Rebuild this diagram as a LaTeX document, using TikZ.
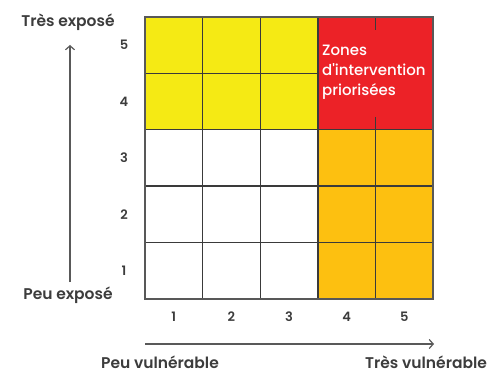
\documentclass[tikz,border=0pt]{standalone}
\usepackage{fontspec}
\setmainfont{Poppins}
\newfontfamily\semib{Poppins SemiBold}
\newfontfamily\medium{Poppins Medium}
\usetikzlibrary{arrows.meta}
\definecolor{ink}{HTML}{3C3C3C}
\definecolor{gridline}{HTML}{3A3A3A}
\definecolor{cellyellow}{HTML}{F5EA14}
\definecolor{cellred}{HTML}{EC2227}
\definecolor{cellorange}{HTML}{FDC010}
\tikzset{
  axislabel/.style={text=ink, font=\semib\fontsize{15.5}{18}\selectfont, inner sep=0pt},
  ticklabel/.style={text=ink, font=\semib\fontsize{13}{15}\selectfont, inner sep=0pt},
  zonelabel/.style={text=white, font=\medium\fontsize{15}{20}\selectfont, align=left, inner sep=0pt, anchor=north west},
  gridstroke/.style={draw=gridline, line width=1.4pt},
  axisarrow/.style={draw=ink!85, line width=1.2pt, -{Straight Barb[length=4pt,width=9pt]}},
}
\begin{document}
\begin{tikzpicture}[x=1pt,y=-1pt]
  \useasboundingbox (0,0) rectangle (492,371);
  \clip (0,0) rectangle (492,371);
  % coloured zones
  \fill[cellyellow] (145,17) rectangle (317.8,129.8);
  \fill[cellred] (317.8,17) rectangle (433,129.8);
  \fill[cellorange] (317.8,129.8) rectangle (433,299);
  % inner grid lines
  \foreach \x in {202.6,260.2,317.8} \draw[gridstroke] (\x,17) -- (\x,299);
  \draw[gridstroke] (375.4,129.8) -- (375.4,299);
  \draw[gridstroke] (375.4,17) -- (375.4,30);
  \draw[gridstroke] (375.4,117) -- (375.4,129.8);
  \draw[gridstroke] (145,73.4) -- (317.8,73.4);
  \foreach \y in {129.8,186.2,242.6} \draw[gridstroke] (145,\y) -- (433,\y);
  \draw[draw=gridline!85, line width=1.4pt] (145,17) rectangle (433,299);
  % zone label
  \node[zonelabel] (zone) at (322,45) {Zones\\d\char"27 intervention\\priorisées};
  % row numbers
  \foreach \i/\y in {5/45.2,4/101.6,3/158,2/214.4,1/270.8}
    \node[ticklabel] (row\i) at (124,\y) {\i};
  % column numbers
  \foreach \i/\x in {1/173.8,2/231.4,3/289,4/346.6,5/404.2}
    \node[ticklabel] (col\i) at (\x,317) {\i};
  % exposure axis
  \node[axislabel] (hiexp) at (68,22) {Très exposé};
  \node[axislabel] (loexp) at (68,295) {Peu exposé};
  \coordinate (expbot) at (70,282);
  \coordinate (exptop) at (70,45);
  \draw[axisarrow] (expbot) -- (exptop);
  % vulnerability axis
  \coordinate (vulleft) at (145,344);
  \coordinate (vulright) at (434,344);
  \draw[axisarrow] (vulleft) -- (vulright);
  \node[axislabel, anchor=base] (lovul) at (160,368) {Peu vulnérable};
  \node[axislabel, anchor=base west] (hivul) at (365,368) {Très vulnérable};
\end{tikzpicture}
\end{document}
